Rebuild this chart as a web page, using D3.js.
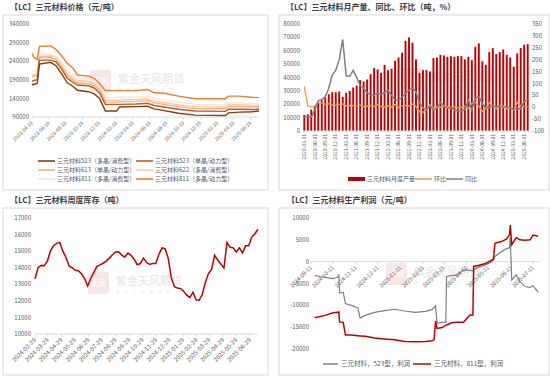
<!DOCTYPE html>
<html><head><meta charset="utf-8">
<script src="https://cdn.jsdelivr.net/npm/d3@7"></script>
<style>
body{margin:0;background:#fff;}
text{font-family:"Noto Sans CJK SC","Noto Sans",sans-serif;}
</style></head><body>
<script>
// ---- 三元材料价格 ----
var priceDates = ["2023-04-19","2023-04-26","2023-05-08","2023-05-16","2023-06-25","2023-07-15","2023-08-05","2023-08-25","2023-09-15","2023-10-01","2023-11-10","2023-12-01","2023-12-20","2024-01-10","2024-02-20","2024-03-01","2024-05-01","2024-06-10","2024-07-05","2024-08-10","2024-10-01","2024-12-01","2025-03-20","2025-04-01","2025-05-10","2025-06-25","2025-07-20"];
var p523poly  = [176000,178000,180000,232000,237000,228000,205000,182000,172000,162000,158000,152000,140000,106000,106000,117000,118000,119000,112000,107000,100000,95000,94000,101000,103000,104000,106000];
var p523mono  = [186000,188000,190000,243000,243000,238000,218000,194000,183000,176000,174000,168000,155000,124000,124000,124000,125000,127000,121000,117000,111000,106000,105000,111000,111000,110000,111000];
var p613mono  = [198000,200000,202000,250000,250000,244000,224000,200000,190000,182000,180000,174000,162000,130000,130000,131000,132000,134000,128000,124000,118000,113000,112000,118000,118000,117000,117000];
var p622poly  = [203000,204000,206000,253000,254000,248000,230000,206000,196000,188000,186000,180000,168000,135000,135000,136000,137000,139000,133000,129000,123000,118000,117000,123000,123000,121000,121000];
var p811poly  = [212000,214000,215000,258000,258000,252000,236000,214000,203000,196000,194000,188000,176000,142000,142000,143000,144000,146000,140000,136000,130000,124000,123000,128000,128000,126000,126000];
var p811power = [261000,250000,245000,280000,281000,272000,254000,234000,221000,203000,200000,194000,180000,161000,161000,161000,161000,164000,155000,154000,146000,139000,139000,146000,146000,143000,142000];
var priceTicks = ["2023-04-19","2023-06-19","2023-08-19","2023-10-19","2023-12-19","2024-02-19","2024-04-19","2024-06-19","2024-08-19","2024-10-19","2024-12-19","2025-02-19","2025-04-19","2025-06-19"];

// ---- 月产量 / 同比 / 环比 (2020-03 .. 2025-07) ----
var prodStart = "2020-03-01", prodEnd = "2025-07-01";
var prodVol = [12000,12500,16000,18500,21000,23000,25000,27500,29000,29000,29500,25500,28500,30000,32500,34000,38000,37000,38500,42500,47000,46000,43500,49500,45500,46500,52500,55000,58500,67500,70000,66000,53500,43500,45500,45500,44500,54500,55000,57000,56500,55500,56000,55500,56000,56000,53500,55500,53000,63000,65500,52000,49500,59000,62000,57500,59000,61000,57000,55000,48000,58000,62000,64500,65000];
var prodYoy = [-41,-39,-41,-12,28,32,45,80,135,155,200,285,132,130,155,125,90,82,60,52,50,58,53,62,70,50,30,30,42,58,72,80,65,18,-3,-10,5,-12,-4,20,6,-4,0,-12,-16,-17,-10,30,-12,38,45,15,-5,0,6,3,6,0,3,-4,-8,-4,-8,25,30];
var prodMom = [87,5,3,5,20,18,12,15,10,8,12,14,5,8,7,5,10,2,5,8,3,10,3,2,5,0,12,0,5,8,5,14,2,-20,-22,-8,10,-5,3,0,4,2,-2,1,-3,0,3,-5,15,20,5,-18,-5,18,5,-6,3,5,-6,-4,-12,20,6,3,1];

// ---- 周度库存 (每周, 2024-02-29 起) ----
var invStart = "2024-02-29";
var invValues = [13330,14000,14140,14120,14400,15020,15330,15470,15520,15000,14620,14100,14000,13840,13820,13630,13350,12900,13350,13720,14080,14170,14270,14400,14580,14780,14950,14960,14760,14650,14880,14750,14520,14180,14250,14580,14330,14200,14260,14260,14800,15200,15150,14580,13400,12850,12770,12740,12580,12340,12200,12520,12060,12040,12380,13100,13650,13900,14750,14450,14230,13980,15530,15230,15200,14950,15200,14900,15330,15330,15850,16050,16320];
var invTicks = ["2024-02-29","2024-03-29","2024-04-29","2024-05-29","2024-06-29","2024-07-29","2024-08-29","2024-09-29","2024-10-29","2024-11-29","2024-12-29","2025-01-29","2025-02-28","2025-03-29","2025-04-29","2025-05-29","2025-06-29"];

// ---- 生产利润 ----
var profitDates = ["2024-09-16","2024-09-30","2024-10-11","2024-10-18","2024-10-19","2024-10-20","2024-10-25","2024-10-28","2024-11-05","2024-11-14","2024-11-17","2024-11-24","2024-12-07","2024-12-20","2025-01-03","2025-01-17","2025-01-31","2025-02-14","2025-02-23","2025-02-26","2025-02-28","2025-03-02","2025-03-09","2025-03-14","2025-03-15","2025-03-22","2025-03-29","2025-04-07","2025-04-16","2025-04-20","2025-04-21","2025-04-27","2025-05-06","2025-05-13","2025-05-18","2025-05-20","2025-05-29","2025-06-05","2025-06-09","2025-06-10","2025-06-12","2025-06-18","2025-06-23","2025-06-30","2025-07-07","2025-07-11","2025-07-18"];
var profit523 = [-3170,-3600,-3900,-3500,-2900,-7200,-7000,-9600,-10000,-10600,-12900,-12300,-11600,-11200,-10900,-11300,-11600,-11400,-11000,-10500,-10100,-14100,-13900,-13900,-3400,-3200,-3100,-1900,-2000,-2100,-1900,-1300,-800,-300,400,1200,2300,3000,3200,5500,-4200,-3000,-4500,-5700,-5900,-5500,-7000];
var profit811 = [-12820,-12300,-11700,-11600,-11500,-13800,-13900,-16800,-16800,-16950,-17000,-17100,-17500,-17700,-17900,-18300,-18350,-18300,-18100,-17900,-13600,-15300,-15100,-14600,-14500,-14000,-13900,-13900,-12200,-12200,-1100,-870,-500,100,580,4200,4600,5200,6200,8400,3900,5500,5000,4900,5000,6100,5800];
var profitTicks = ["2024-09-11","2024-10-11","2024-11-11","2024-12-11","2025-01-11","2025-02-11","2025-03-11","2025-04-11","2025-05-11","2025-06-11","2025-07-11"];

var parse = d3.timeParse("%Y-%m-%d");
var fmt = d3.timeFormat("%Y-%m-%d");
var grayText = "#595959";
var axisCol = "#D9D9D9";

var svg = d3.select("body").append("svg")
	.attr("width", 550).attr("height", 377);

function card(x, y, w, h, title, tx, ty) {
	svg.append("rect").attr("x", x).attr("y", y).attr("width", w).attr("height", h)
		.attr("fill", "#fff").attr("stroke", "#D9D9D9").attr("stroke-width", 1);
	svg.append("text").attr("x", tx).attr("y", ty).attr("dy", "0.35em")
		.attr("font-size", 8).attr("font-weight", "bold").attr("fill", "#404040").text(title);
}

function mark(x, y) {
	var g = svg.append("g").attr("opacity", 0.55);
	g.append("rect").attr("x", x).attr("y", y).attr("width", 21).attr("height", 22).attr("rx", 2)
		.attr("fill", "#F3D3D3");
	g.append("text").attr("x", x + 10.5).attr("y", y + 11).attr("dy", "0.35em").attr("text-anchor", "middle")
		.attr("font-size", 8).attr("fill", "#fff").text("天风");
	g.append("text").attr("x", x + 28).attr("y", y + 9).attr("dy", "0.35em")
		.attr("font-size", 11).attr("fill", "#D8CACA").text("紫金天风期货");
	g.append("text").attr("x", x + 28).attr("y", y + 20).attr("dy", "0.35em")
		.attr("font-size", 3.5).attr("fill", "#E0D4D4").attr("letter-spacing", 5).text("金融产业研究院");
}

function yLabels(scale, ticks, x, anchor, fmtFn) {
	svg.append("g").selectAll("text").data(ticks).enter().append("text")
		.attr("x", x).attr("y", function(d){ return scale(d); }).attr("dy", "0.35em")
		.attr("text-anchor", anchor).attr("font-size", 6).attr("fill", grayText)
		.text(fmtFn || function(d){ return d; });
}

function xAxisLine(x1, x2, y, ticks) {
	svg.append("line").attr("x1", x1).attr("x2", x2).attr("y1", y).attr("y2", y)
		.attr("stroke", axisCol).attr("stroke-width", 1);
	svg.append("g").selectAll("line").data(ticks).enter().append("line")
		.attr("x1", function(d){ return d; }).attr("x2", function(d){ return d; })
		.attr("y1", y).attr("y2", y + 2.5).attr("stroke", axisCol);
}

function rotLabels(items, y, size) {
	svg.append("g").selectAll("text").data(items).enter().append("text")
		.attr("transform", function(d){ return "translate(" + d.x + "," + y + ") rotate(-45)"; })
		.attr("text-anchor", "end").attr("dy", "0.35em").attr("font-size", size).attr("fill", grayText)
		.text(function(d){ return d.t; });
}

// ================= 左上：价格 =================
card(3, 15, 265, 175, "【LC】三元材料价格（元/吨）", 10, 7);
mark(90, 70);

var px = d3.scaleTime().domain([parse("2023-04-19"), parse("2025-07-20")]).range([32, 259]);
var py = d3.scaleLinear().domain([90000, 340000]).range([117, 24]);
yLabels(py, d3.range(90000, 340001, 50000), 29, "end");
var ptX = priceTicks.map(function(s){ return px(parse(s)); });
xAxisLine(32, 259, 117, ptX);
rotLabels(priceTicks.map(function(s){ return {x: px(parse(s)), t: s}; }), 122, 5);

var priceSeries = [
	{name: "三元材料811（多晶/消费型）", v: p811poly, c: "#FBE5D6"},
	{name: "三元材料622（多晶/消费型）", v: p622poly, c: "#F8CBAD"},
	{name: "三元材料613（单晶/动力型）", v: p613mono, c: "#F4B183"},
	{name: "三元材料811（多晶/动力型）", v: p811power, c: "#ED7D31"},
	{name: "三元材料523（单晶/动力型）", v: p523mono, c: "#C55A11"},
	{name: "三元材料523（多晶/消费型）", v: p523poly, c: "#843C0C"}
];
var pLine = d3.line().x(function(d){ return px(d[0]); }).y(function(d){ return py(d[1]); }).curve(d3.curveLinear);
priceSeries.forEach(function(s){
	var pts = priceDates.map(function(d, i){ return [parse(d), s.v[i]]; });
	svg.append("path").datum(pts).attr("d", pLine).attr("fill", "none")
		.attr("stroke", s.c).attr("stroke-width", 1.4);
});

var priceLegend = [
	{t: "三元材料523（多晶/消费型）", c: "#843C0C", col: 0, row: 0},
	{t: "三元材料523（单晶/动力型）", c: "#C55A11", col: 1, row: 0},
	{t: "三元材料613（单晶/动力型）", c: "#F4B183", col: 0, row: 1},
	{t: "三元材料622（多晶/消费型）", c: "#F8CBAD", col: 1, row: 1},
	{t: "三元材料811（多晶/消费型）", c: "#FBE5D6", col: 0, row: 2},
	{t: "三元材料811（多晶/动力型）", c: "#ED7D31", col: 1, row: 2}
];
var lg = svg.append("g").selectAll("g").data(priceLegend).enter().append("g")
	.attr("transform", function(d){ return "translate(" + (d.col ? 136 : 38) + "," + (161 + d.row * 9) + ")"; });
lg.append("line").attr("x1", 0).attr("x2", 17).attr("stroke", function(d){ return d.c; }).attr("stroke-width", 1.6);
lg.append("text").attr("x", 19).attr("dy", "0.35em").attr("font-size", 6).attr("fill", grayText)
	.text(function(d){ return d.t; });

// ================= 右上：产量 =================
card(279, 15, 270, 175, "【LC】三元材料月产量、同比、环比（吨，%）", 286, 7);
mark(402, 68);

var months = d3.timeMonth.range(parse(prodStart), d3.timeMonth.offset(parse(prodEnd), 1));
var bx = d3.scaleBand().domain(months.map(fmt)).range([303, 529]).paddingInner(0.45).paddingOuter(0.1);
var byL = d3.scaleLinear().domain([0, 80000]).range([131, 24]);
var byR = d3.scaleLinear().domain([-100, 350]).range([131, 24]);
yLabels(byL, d3.range(0, 80001, 10000), 300, "end");
yLabels(byR, d3.range(-100, 351, 50), 532, "start");

svg.append("g").selectAll("rect").data(prodVol).enter().append("rect")
	.attr("x", function(d, i){ return bx(fmt(months[i])); })
	.attr("y", function(d){ return byL(d); })
	.attr("width", bx.bandwidth())
	.attr("height", function(d){ return byL(0) - byL(d); })
	.attr("fill", "#C00000");

var tickMonths = months.filter(function(d, i){ return i % 3 === 0; });
xAxisLine(303, 529, 131, tickMonths.map(function(d){ return bx(fmt(d)) + bx.bandwidth() / 2; }));
svg.append("g").selectAll("text").data(tickMonths).enter().append("text")
	.attr("transform", function(d){ return "translate(" + (bx(fmt(d)) + bx.bandwidth() / 2) + ",134) rotate(-90)"; })
	.attr("text-anchor", "end").attr("dy", "0.35em").attr("font-size", 5).attr("fill", grayText)
	.text(function(d){ return fmt(d); });

var cx = function(i){ return bx(fmt(months[i])) + bx.bandwidth() / 2; };
var momLine = d3.line().x(function(d, i){ return cx(i); }).y(function(d){ return byR(d); });
svg.append("path").datum(prodMom).attr("d", momLine).attr("fill", "none")
	.attr("stroke", "#F79646").attr("stroke-width", 1.3);
svg.append("path").datum(prodYoy).attr("d", momLine).attr("fill", "none")
	.attr("stroke", "#7F7F7F").attr("stroke-width", 1.5);

svg.append("rect").attr("x", 348).attr("y", 177).attr("width", 17).attr("height", 4).attr("fill", "#C00000");
svg.append("text").attr("x", 367).attr("y", 179).attr("dy", "0.35em").attr("font-size", 6).attr("fill", grayText).text("三元材料月度产量");
svg.append("line").attr("x1", 415).attr("x2", 432).attr("y1", 179).attr("y2", 179).attr("stroke", "#F79646").attr("stroke-width", 1.5);
svg.append("text").attr("x", 434).attr("y", 179).attr("dy", "0.35em").attr("font-size", 6).attr("fill", grayText).text("环比");
svg.append("line").attr("x1", 446).attr("x2", 463).attr("y1", 179).attr("y2", 179).attr("stroke", "#7F7F7F").attr("stroke-width", 1.5);
svg.append("text").attr("x", 465).attr("y", 179).attr("dy", "0.35em").attr("font-size", 6).attr("fill", grayText).text("同比");

// ================= 左下：库存 =================
card(3, 208, 265, 167, "【LC】三元材料周度库存（吨）", 10, 200);
mark(88, 272);

var invDates = invValues.map(function(d, i){ return d3.timeDay.offset(parse(invStart), i * 7); });
var ix = d3.scaleTime().domain([parse(invStart), invDates[invDates.length - 1]]).range([35, 258]);
var iy = d3.scaleLinear().domain([10000, 17000]).range([334, 218]);
yLabels(iy, d3.range(10000, 17001, 1000), 31, "end");
xAxisLine(35, 258, 334, invTicks.map(function(s){ return ix(parse(s)); }));
rotLabels(invTicks.map(function(s){ return {x: ix(parse(s)), t: s}; }), 339, 6);

svg.append("path").datum(invValues)
	.attr("d", d3.line().x(function(d, i){ return ix(invDates[i]); }).y(function(d){ return iy(d); }))
	.attr("fill", "none").attr("stroke", "#C00000").attr("stroke-width", 1.5);

// ================= 右下：利润 =================
card(279, 208, 270, 167, "【LC】三元材料生产利润（元/吨）", 287, 200);
mark(386, 263);

var fx = d3.scaleTime().domain([parse("2024-09-11"), parse("2025-07-11")]).range([311, 533]);
var fy = d3.scaleLinear().domain([-20000, 10000]).range([349, 218]);
yLabels(fy, d3.range(-20000, 10001, 5000), 309, "end");
xAxisLine(311, 540, fy(0), profitTicks.map(function(s){ return fx(parse(s)); }));
rotLabels(profitTicks.map(function(s){ return {x: fx(parse(s)), t: s}; }), fy(0) + 5, 5.5);

var fLine = d3.line().x(function(d){ return fx(d[0]); }).y(function(d){ return fy(d[1]); });
svg.append("path").datum(profitDates.map(function(d, i){ return [parse(d), profit523[i]]; }))
	.attr("d", fLine).attr("fill", "none").attr("stroke", "#7F7F7F").attr("stroke-width", 1.2);
svg.append("path").datum(profitDates.map(function(d, i){ return [parse(d), profit811[i]]; }))
	.attr("d", fLine).attr("fill", "none").attr("stroke", "#C00000").attr("stroke-width", 1.5);

svg.append("line").attr("x1", 323).attr("x2", 338).attr("y1", 364).attr("y2", 364).attr("stroke", "#7F7F7F").attr("stroke-width", 1.5);
svg.append("text").attr("x", 341).attr("y", 364).attr("dy", "0.35em").attr("font-size", 6.5).attr("fill", grayText).text("三元材料，523型，利润");
svg.append("line").attr("x1", 413).attr("x2", 431).attr("y1", 364).attr("y2", 364).attr("stroke", "#C00000").attr("stroke-width", 1.5);
svg.append("text").attr("x", 434).attr("y", 364).attr("dy", "0.35em").attr("font-size", 6.5).attr("fill", grayText).text("三元材料，811型，利润");
</script></body></html>
